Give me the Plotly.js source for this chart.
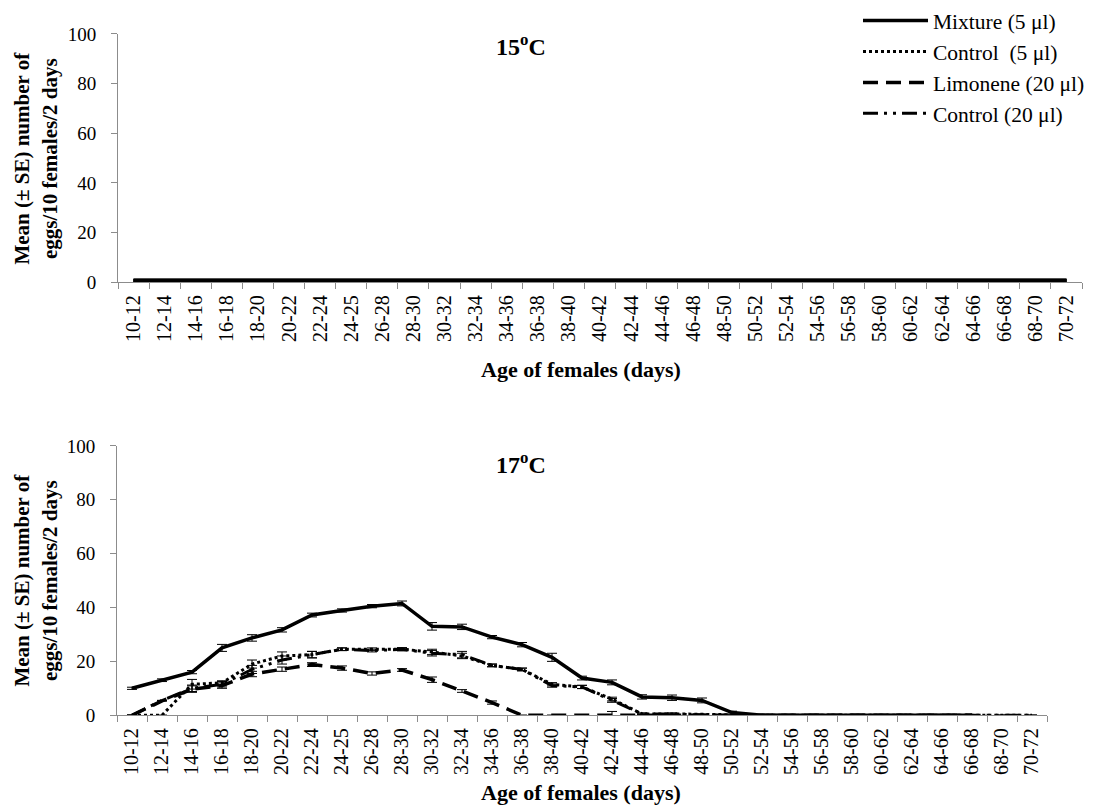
<!DOCTYPE html>
<html>
<head>
<meta charset="utf-8">
<script src="https://cdn.plot.ly/plotly-3.0.1.min.js"></script>
<style>html,body{margin:0;padding:0;background:#fff;}#chart{width:1096px;height:807px;}</style>
</head>
<body>
<div id="chart"></div>
<script>
// Age classes (days)
const ageClasses = ["10-12","12-14","14-16","16-18","18-20","20-22","22-24","24-25","26-28","28-30",
  "30-32","32-34","34-36","36-38","38-40","40-42","42-44","44-46","46-48","48-50",
  "50-52","52-54","54-56","56-58","58-60","60-62","62-64","64-66","66-68","68-70","70-72"];

const seriesNames = ["Mixture (5 \u03bcl)", "Control\u00a0 (5 \u03bcl)", "Limonene (20 \u03bcl)", "Control (20 \u03bcl)"];

// 15 °C : no eggs laid in any treatment
const mixture15   = [0,0,0,0,0,0,0,0,0,0,0,0,0,0,0,0,0,0,0,0,0,0,0,0,0,0,0,0,0,0,0];
const control5_15 = [0,0,0,0,0,0,0,0,0,0,0,0,0,0,0,0,0,0,0,0,0,0,0,0,0,0,0,0,0,0,0];
const limonene15  = [0,0,0,0,0,0,0,0,0,0,0,0,0,0,0,0,0,0,0,0,0,0,0,0,0,0,0,0,0,0,0];
const control20_15= [0,0,0,0,0,0,0,0,0,0,0,0,0,0,0,0,0,0,0,0,0,0,0,0,0,0,0,0,0,0,0];

// 17 °C means
const mixture17   = [10,13,16,25,28.7,31.7,37.2,38.9,40.5,41.5,33,32.8,29,26.2,21.5,13.8,12.2,6.8,6.5,5.5,1,0,0,0,0,0,0,0,0,null,null];
const control5_17 = [0,0,11.5,12,19,22,22.5,24.5,24.5,24.5,23.5,22,18.5,17,11.5,10.5,6,0.5,0.5,0.3,0,0,0,0,0,0,0,0,0,0,0];
const limonene17  = [0,5.3,9.7,11,15.3,17.1,18.8,17.5,15.5,16.8,13.2,9,4.7,0,0,0,0.2,0,0,0,0,0,0,0,0,0,0,0,0,null,null];
const control20_17= [0,5.5,10,11.5,17,20.5,22.5,24.5,24,24.5,23,22.5,18.5,17,11,10.5,5.5,0.5,0.5,0,0,0,0,0,0,0,0,0,0,0,0];

// 17 °C standard errors
const mixture17SE   = [0.4,0.5,0.6,1.3,1.2,0.8,0.7,0.6,0.6,0.9,1.4,1.0,0.6,0.8,1.5,0.7,0.9,0.8,1.0,0.9,0.5,0,0,0,0,0,0,0,0,0,0];
const control5_17SE = [0,0,1.8,0.8,1.5,1.5,1.2,0.5,0.5,0.6,1.0,1.0,0.5,0.5,0.6,0.6,0.7,0.3,0.3,0.2,0,0,0,0,0,0,0,0,0,0,0];
const limonene17SE  = [0,0,1.2,1.0,1.0,0.8,0.7,0.8,0.6,0.5,1.0,0.5,0.6,0,0,0,1.2,0,0,0,0,0,0,0,0,0,0,0,0,0,0];
const control20_17SE= [0,0,1.2,1.0,1.5,1.5,1.2,0.5,0.5,0.5,1.0,1.2,0.5,0.5,0.6,0.6,0.7,0.3,0.3,0,0,0,0,0,0,0,0,0,0,0,0];

const FONT = "Liberation Serif";
const styles = [
  {dash: "solid", width: 3.5},
  {dash: "dot", width: 3},
  {dash: "15px,8px", width: 3.5},
  {dash: "15px,6px,3px,6px,3px,6px", width: 3}
];

const data15 = [mixture15, control5_15, limonene15, control20_15];
const data17 = [mixture17, control5_17, limonene17, control20_17];
const se17 = [mixture17SE, control5_17SE, limonene17SE, control20_17SE];

const traces = [];
data15.forEach((vals, i) => {
  traces.push({
    x: ageClasses, y: vals, xaxis: "x", yaxis: "y", type: "scatter", mode: "lines",
    name: seriesNames[i], showlegend: false,
    line: {color: "#000", dash: "solid", width: 7}
  });
});
data17.forEach((vals, i) => {
  traces.push({
    x: ageClasses, y: vals, xaxis: "x2", yaxis: "y2", type: "scatter", mode: "lines",
    name: seriesNames[i], showlegend: true,
    line: {color: "#000", dash: styles[i].dash, width: styles[i].width},
    error_y: {type: "data", array: se17[i], visible: true, color: "#000", thickness: 1, width: 5}
  });
});

const W = 1096, H = 807;
const axX = (l, r) => ({
  domain: [l / W, r / W], type: "category", range: [-0.5, ageClasses.length - 0.5],
  tickson: "boundaries", ticks: "outside", ticklen: 6, tickcolor: "#8c8c8c", tickwidth: 1,
  showline: true, linecolor: "#8c8c8c", linewidth: 1, showgrid: false, zeroline: false,
  tickangle: -90, tickfont: {family: FONT, size: 20, color: "#000"}, ticklabelstandoff: 4,
  fixedrange: true
});
const axY = (top, bottom) => ({
  domain: [1 - bottom / H, 1 - top / H], range: [0, 100], dtick: 20, tick0: 0,
  ticks: "outside", ticklen: 6, tickcolor: "#8c8c8c", tickwidth: 1,
  showline: true, linecolor: "#8c8c8c", linewidth: 1, showgrid: false, zeroline: false,
  tickfont: {family: FONT, size: 19, color: "#000"}, ticklabelstandoff: 11, fixedrange: true
});

const xa1 = axX(118, 1082); xa1.anchor = "y";
const xa2 = axX(117, 1047); xa2.anchor = "y2";
const ya1 = axY(32, 281); ya1.anchor = "x";
const ya2 = axY(445, 715); ya2.anchor = "x2";

const titleFont = {family: FONT, size: 24, color: "#000"};
const yTitleFont = {family: FONT, size: 21, color: "#000"};
const xTitleFont = {family: FONT, size: 22, color: "#000"};
const ann = (text, x, y, font, angle) => ({text: text, x: x / W, y: 1 - y / H, xref: "paper", yref: "paper",
  showarrow: false, font: font, xanchor: "center", yanchor: "middle", textangle: angle || 0});
const annotations = [
  ann("<b>15<sup>o</sup>C</b>", 521, 43, titleFont),
  ann("<b>17<sup>o</sup>C</b>", 521, 462, titleFont),
  ann("<b>Mean (\u00b1 SE) number of<br>eggs/10 females/2 days</b>", 36, 157, yTitleFont, -90),
  ann("<b>Mean (\u00b1 SE) number of<br>eggs/10 females/2 days</b>", 36, 580, yTitleFont, -90),
  ann("<b>Age of females (days)</b>", 581, 368, xTitleFont),
  ann("<b>Age of females (days)</b>", 581, 792, xTitleFont)
];

const layout = {
  width: W, height: H, margin: {l: 0, r: 0, t: 0, b: 0},
  paper_bgcolor: "#fff", plot_bgcolor: "rgba(0,0,0,0)",
  xaxis: xa1, yaxis: ya1, xaxis2: xa2, yaxis2: ya2,
  showlegend: true,
  legend: {x: 858 / W, xanchor: "left", y: 1.003, yanchor: "top", bgcolor: "rgba(0,0,0,0)",
    font: {family: FONT, size: 21.5, color: "#000"}, tracegroupgap: 0, itemwidth: 65,
    traceorder: "normal"},
  annotations: annotations,
  font: {family: FONT, color: "#000"}
};

Plotly.newPlot("chart", traces, layout, {displayModeBar: false, staticPlot: true});
</script>
</body>
</html>
